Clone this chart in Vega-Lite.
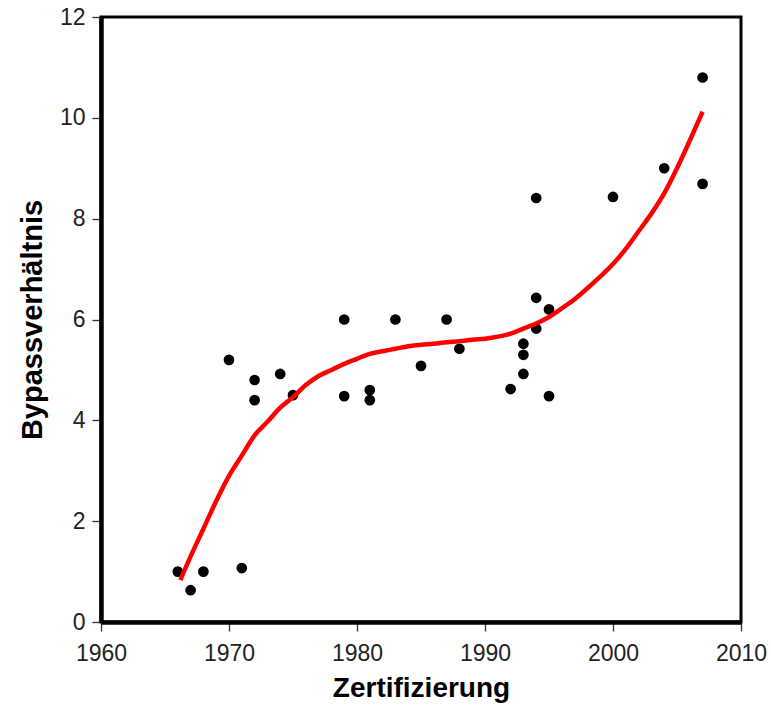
{
  "$schema": "https://vega.github.io/schema/vega-lite/v6.json",
  "autosize": {"type": "none"},
  "padding": {"left": 101, "top": 17, "right": 30, "bottom": 95},
  "width": 640,
  "height": 605,
  "background": "white",
  "config": {
    "view": {"stroke": "black", "strokeWidth": 3},
    "axis": {
      "labelFont": "Liberation Sans",
      "labelColor": "#222",
      "labelFlush": false,
      "labelOverlap": false,
      "titleFont": "Liberation Sans",
      "titleFontWeight": "bold",
      "titleColor": "black",
      "grid": false,
      "domain": true,
      "domainColor": "black",
      "domainWidth": 4.5,
      "tickColor": "#333",
      "tickWidth": 1.3,
      "tickSize": 9
    }
  },
  "datasets": {
    "points": [
      {"jahr": 1966, "bpr": 1.0},
      {"jahr": 1967, "bpr": 0.63},
      {"jahr": 1968, "bpr": 1.0},
      {"jahr": 1970, "bpr": 5.2},
      {"jahr": 1971, "bpr": 1.07},
      {"jahr": 1972, "bpr": 4.8},
      {"jahr": 1972, "bpr": 4.4},
      {"jahr": 1974, "bpr": 4.92},
      {"jahr": 1975, "bpr": 4.5},
      {"jahr": 1979, "bpr": 6.0},
      {"jahr": 1979, "bpr": 4.48},
      {"jahr": 1981, "bpr": 4.6},
      {"jahr": 1981, "bpr": 4.4},
      {"jahr": 1983, "bpr": 6.0},
      {"jahr": 1985, "bpr": 5.08},
      {"jahr": 1987, "bpr": 6.0},
      {"jahr": 1988, "bpr": 5.42},
      {"jahr": 1992, "bpr": 4.62},
      {"jahr": 1993, "bpr": 5.52},
      {"jahr": 1993, "bpr": 5.3},
      {"jahr": 1993, "bpr": 4.92},
      {"jahr": 1994, "bpr": 6.43},
      {"jahr": 1994, "bpr": 5.82},
      {"jahr": 1994, "bpr": 8.41},
      {"jahr": 1995, "bpr": 6.2},
      {"jahr": 1995, "bpr": 4.48},
      {"jahr": 2000, "bpr": 8.43},
      {"jahr": 2004, "bpr": 9.0},
      {"jahr": 2007, "bpr": 10.8},
      {"jahr": 2007, "bpr": 8.69}
    ],
    "curve": [
      {"jahr": 1966.2, "bpr": 0.83},
      {"jahr": 1967, "bpr": 1.3},
      {"jahr": 1968, "bpr": 1.85},
      {"jahr": 1969, "bpr": 2.4},
      {"jahr": 1970, "bpr": 2.9},
      {"jahr": 1971, "bpr": 3.3},
      {"jahr": 1972, "bpr": 3.7},
      {"jahr": 1973, "bpr": 3.97},
      {"jahr": 1974, "bpr": 4.25},
      {"jahr": 1975, "bpr": 4.46},
      {"jahr": 1976, "bpr": 4.7},
      {"jahr": 1977, "bpr": 4.88},
      {"jahr": 1978, "bpr": 5.0},
      {"jahr": 1979, "bpr": 5.12},
      {"jahr": 1980, "bpr": 5.22},
      {"jahr": 1981, "bpr": 5.32},
      {"jahr": 1982, "bpr": 5.37},
      {"jahr": 1983, "bpr": 5.42},
      {"jahr": 1984, "bpr": 5.47},
      {"jahr": 1985, "bpr": 5.5},
      {"jahr": 1986, "bpr": 5.52},
      {"jahr": 1987, "bpr": 5.55},
      {"jahr": 1988, "bpr": 5.57},
      {"jahr": 1989, "bpr": 5.6},
      {"jahr": 1990, "bpr": 5.62},
      {"jahr": 1991, "bpr": 5.66},
      {"jahr": 1992, "bpr": 5.72},
      {"jahr": 1993, "bpr": 5.82},
      {"jahr": 1994, "bpr": 5.92},
      {"jahr": 1995, "bpr": 6.05},
      {"jahr": 1996, "bpr": 6.22},
      {"jahr": 1997, "bpr": 6.4},
      {"jahr": 1998, "bpr": 6.62},
      {"jahr": 1999, "bpr": 6.85},
      {"jahr": 2000, "bpr": 7.1},
      {"jahr": 2001, "bpr": 7.4},
      {"jahr": 2002, "bpr": 7.75},
      {"jahr": 2003, "bpr": 8.1},
      {"jahr": 2004, "bpr": 8.5},
      {"jahr": 2005, "bpr": 9.0},
      {"jahr": 2006, "bpr": 9.55},
      {"jahr": 2007, "bpr": 10.12}
    ]
  },
  "encoding": {
    "x": {
      "field": "jahr",
      "type": "quantitative",
      "scale": {"domain": [1960, 2010], "nice": false, "zero": false},
      "axis": {"values": [1960, 1970, 1980, 1990, 2000, 2010], "format": "d", "title": "Zertifizierung", "titleFontSize": 28, "labelFontSize": 23, "labelPadding": 11, "titlePadding": 9}
    },
    "y": {
      "field": "bpr",
      "type": "quantitative",
      "scale": {"domain": [0, 12], "nice": false},
      "axis": {"values": [0, 2, 4, 6, 8, 10, 12], "title": "Bypassverhältnis", "titleFontSize": 29, "labelFontSize": 23, "labelPadding": 7, "titlePadding": 12}
    }
  },
  "layer": [
    {
      "data": {"name": "points"},
      "mark": {"type": "circle", "size": 115, "color": "black", "opacity": 1}
    },
    {
      "data": {"name": "curve"},
      "mark": {"type": "line", "color": "#ff0000", "strokeWidth": 4.5, "interpolate": "monotone"}
    }
  ]
}
